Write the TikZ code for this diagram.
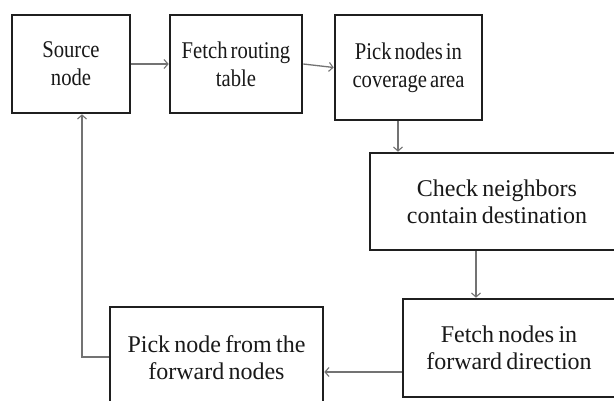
\documentclass[tikz,border=0pt]{standalone}
\usepackage{fontspec}
\setmainfont{Liberation Serif}
\newfontfamily\topfont[FakeStretch=0.86, WordSpace=0.6]{Liberation Serif}
\newfontfamily\lowfont[WordSpace=0.7]{Liberation Serif}
\usetikzlibrary{arrows.meta}
\begin{document}
\begin{tikzpicture}[x=1pt,y=-1pt,
  box/.style={draw=black!88, line width=2.6pt, fill=white, align=center, inner sep=0pt, text=black!90},
  topbox/.style={box, font=\topfont\fontsize{24}{28}\selectfont},
  lowbox/.style={box, font=\lowfont\fontsize{24}{27}\selectfont},
  conn/.style={draw=black!55, line width=1.3pt, -{Straight Barb[length=4pt,width=9pt,line width=1.1pt]}}]
\clip (0,0) rectangle (614,401);
\fill[white] (0,0) rectangle (614,401);
\node[topbox, minimum width=118pt, minimum height=98pt] (b1) at (71,64) {Source\\node};
\node[topbox, minimum width=132pt, minimum height=98pt] (b2) at (236,64) {Fetch routing\\table};
\node[topbox, minimum width=147pt, minimum height=105pt] (b3) at (408.5,67.5) {Pick nodes in\\coverage area};
\node[lowbox, minimum width=254pt, minimum height=97pt] (b4) at (497,201.5) {Check neighbors\\contain destination};
\node[lowbox, minimum width=212pt, minimum height=98pt] (b5) at (509,348) {Fetch nodes in\\forward direction};
\node[lowbox, minimum width=213pt, minimum height=101pt] (b6) at (216.5,357.5) {Pick node from the\\forward nodes};
\coordinate (c3) at (398,0);
\coordinate (c4) at (476,0);
\coordinate (c5) at (0,372);
\coordinate (c6) at (0,357);
\coordinate (c6x) at (82,0);
\draw[conn] (b1.east) -- (b2.west);
\draw[conn] (b2.east) -- (b3.west);
\draw[conn] (b3.south -| c3) -- (b4.north -| c3);
\draw[conn] (b4.south -| c4) -- (b5.north -| c4);
\draw[conn] (b5.west |- c5) -- (b6.east |- c5);
\draw[conn] (b6.west |- c6) -| (b1.south -| c6x);
\end{tikzpicture}
\end{document}
